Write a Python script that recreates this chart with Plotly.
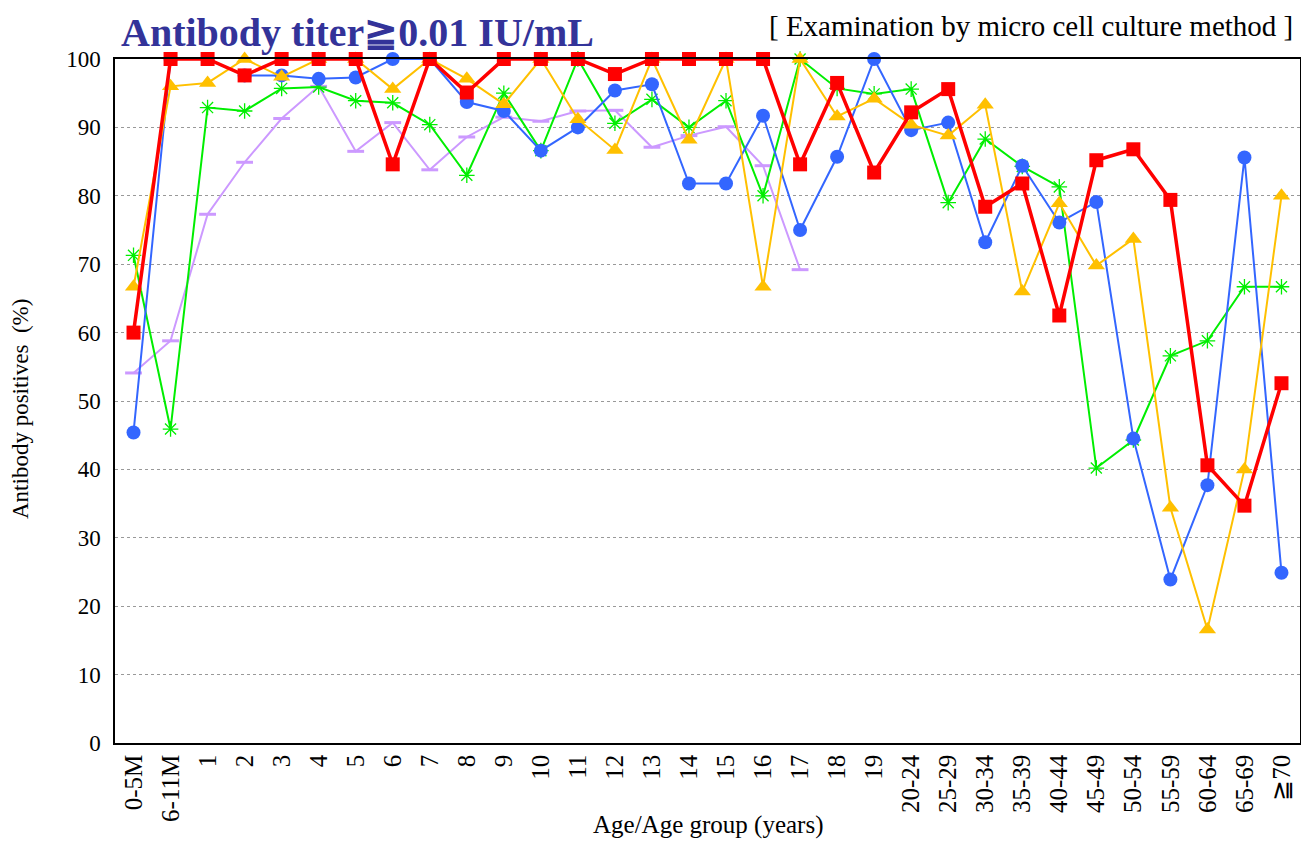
import plotly.graph_objects as go

categories = ["0-5M", "6-11M", "1", "2", "3", "4", "5", "6", "7", "8", "9",
              "10", "11", "12", "13", "14", "15", "16", "17", "18", "19",
              "20-24", "25-29", "30-34", "35-39", "40-44", "45-49", "50-54",
              "55-59", "60-64", "65-69", "≧70"]

purple_vals = [54.1, 58.8, 77.3, 84.9, 91.3, 96.0, 86.5, 90.7, 83.8, 88.6, 91.5,
               90.9, 92.4, 92.5, 87.1, 88.8, 90.1, 84.4, 69.2, None, None,
               None, None, None, None, None, None, None, None, None, None, None]

green_vals = [71.3, 45.9, 92.9, 92.4, 95.7, 95.9, 93.9, 93.6, 90.4, 83.0, 95.0,
              86.6, 100, 90.6, 94.1, 90.0, 93.9, 80.0, 100, 95.7, 94.9,
              95.6, 79.0, 88.3, 84.3, 81.3, 40.2, 44.3, 56.6, 58.8, 66.7, 66.7]

blue_vals = [45.4, 100, 100, 97.6, 97.6, 97.1, 97.3, 100, 100, 93.7, 92.4,
             86.6, 90.0, 95.4, 96.3, 81.8, 81.8, 91.7, 75.0, 85.7, 100,
             89.6, 90.7, 73.2, 84.4, 76.1, 79.1, 44.5, 23.9, 37.7, 85.6, 24.9]

yellow_vals = [66.7, 96.0, 96.5, 100, 97.4, 100, 100, 95.6, 100, 97.1, 93.4,
               100, 91.2, 86.7, 100, 88.2, 100, 66.7, 100, 91.6, 94.2,
               90.4, 88.8, 93.3, 66.0, 78.9, 69.8, 73.7, 34.4, 16.6, 40.0, 80.0]

red_vals = [60.0, 100, 100, 97.6, 100, 100, 100, 84.6, 100, 95.1, 100,
            100, 100, 97.8, 100, 100, 100, 100, 84.6, 96.5, 83.4,
            92.2, 95.6, 78.4, 81.8, 62.5, 85.2, 86.8, 79.4, 40.6, 34.7, 52.6]

y_ticks = [0, 10, 20, 30, 40, 50, 60, 70, 80, 90, 100]

SERIF = "Liberation Serif, Times New Roman, serif"

fig = go.Figure()

fig.add_trace(go.Scatter(
    x=categories, y=purple_vals, mode="lines+markers", cliponaxis=False,
    line=dict(color="#CC99FF", width=2),
    marker=dict(symbol="line-ew-open", size=12, line=dict(color="#CC99FF", width=3)),
    showlegend=False, connectgaps=False))

fig.add_trace(go.Scatter(
    x=categories, y=green_vals, mode="lines+markers", cliponaxis=False,
    line=dict(color="#00EE00", width=2),
    marker=dict(symbol="asterisk-open", size=13, line=dict(color="#00EE00", width=1.3)),
    showlegend=False))

fig.add_trace(go.Scatter(
    x=categories, y=blue_vals, mode="lines+markers", cliponaxis=False,
    line=dict(color="#3366FF", width=2),
    marker=dict(symbol="circle", size=14, color="#3366FF"),
    showlegend=False))

fig.add_trace(go.Scatter(
    x=categories, y=yellow_vals, mode="lines+markers", cliponaxis=False,
    line=dict(color="#FFC000", width=2),
    marker=dict(symbol="triangle-up", size=15, color="#FFC000"),
    showlegend=False))

fig.add_trace(go.Scatter(
    x=categories, y=red_vals, mode="lines+markers", cliponaxis=False,
    line=dict(color="#FF0000", width=3.5),
    marker=dict(symbol="square", size=14, color="#FF0000"),
    showlegend=False))

fig.update_layout(
    width=1309, height=841,
    margin=dict(l=107, r=17, t=51, b=106, autoexpand=False),
    paper_bgcolor="white", plot_bgcolor="white",
    font=dict(family=SERIF, color="black"),
    xaxis=dict(
        type="category", categoryorder="array", categoryarray=categories,
        range=[-0.5, len(categories) - 0.5], automargin=False,
        tickangle=-90, tickfont=dict(family=SERIF, size=25, color="black"),
        showgrid=False, showline=True, linecolor="black", linewidth=1.5,
        mirror=True, ticks="", zeroline=False,
    ),
    yaxis=dict(
        range=[0, 100], tickvals=y_ticks, automargin=False,
        tickfont=dict(family=SERIF, size=23, color="black"),
        showgrid=True, gridcolor="#999999", griddash="dot", gridwidth=1,
        showline=True, linecolor="black", linewidth=1.5, mirror=True,
        ticks="", zeroline=False, ticklabelstandoff=8,
    ),
    annotations=[
        dict(text="<b>Antibody titer≧0.01 IU/mL</b>", xref="paper", yref="paper",
             x=0.003, y=1.0, xanchor="left", yanchor="top", yshift=51, showarrow=False,
             font=dict(family=SERIF, size=40, color="#333399")),
        dict(text="[ Examination by micro cell culture method ]", xref="paper", yref="paper",
             x=0.996, y=1.0, xanchor="right", yanchor="top", yshift=51, showarrow=False,
             font=dict(family=SERIF, size=29, color="black")),
        dict(text="Age/Age group (years)", xref="paper", yref="paper",
             x=(700 - 107) / 1185, y=0, xanchor="center", yanchor="middle", yshift=-82,
             showarrow=False, font=dict(family=SERIF, size=25, color="black")),
        dict(text="Antibody positives  (%)", xref="paper", yref="paper", textangle=-90,
             x=0, y=(735 - 401) / 684, xanchor="center", yanchor="middle", xshift=-95,
             showarrow=False, font=dict(family=SERIF, size=23, color="black")),
    ],
)

fig.write_html("out.html")
